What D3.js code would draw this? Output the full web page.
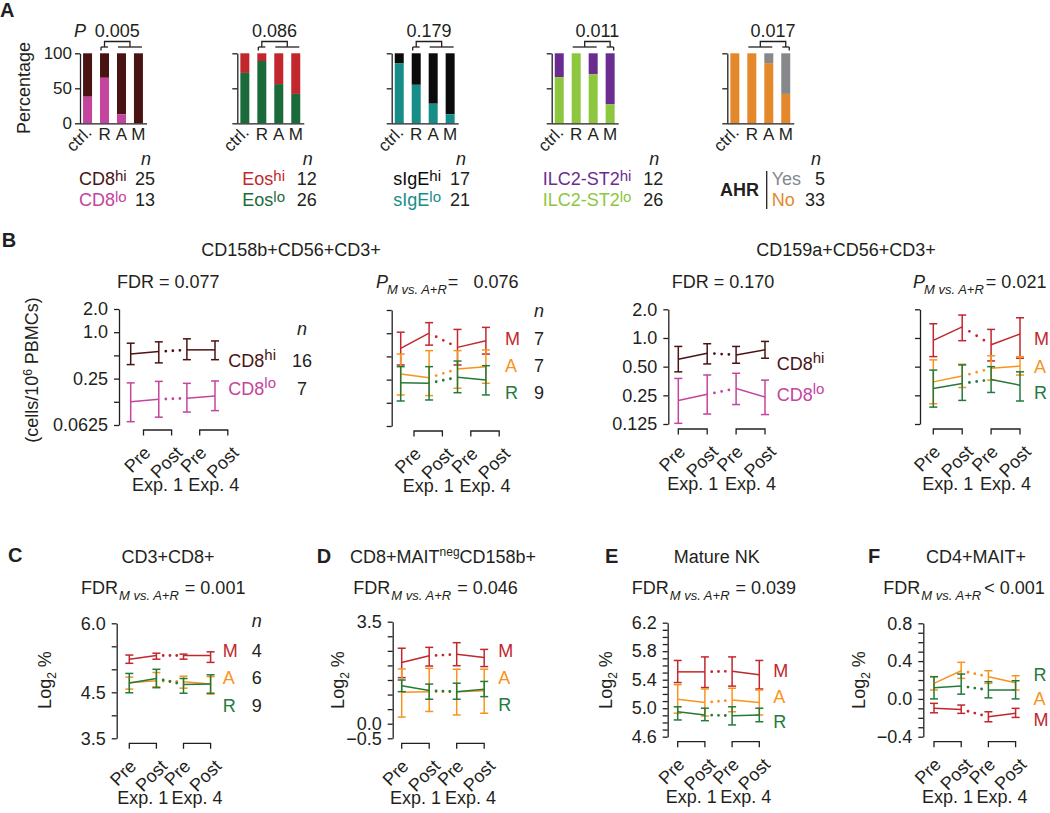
<!DOCTYPE html>
<html><head><meta charset="utf-8">
<script src="https://cdn.jsdelivr.net/npm/d3@7"></script>
<style>
body{margin:0;background:#fff;}
svg{display:block;font-family:"Liberation Sans",Arial,Helvetica,sans-serif;}
</style></head><body>
<svg id="chart" width="1050" height="813"></svg>
<script>
// ================= DATA =================
// Panel A – stacked percentage bars (bottom segment = "lo"/"No" share)
const barCategories = ["ctrl.", "R", "A", "M"];
const cd8LoPercent  = [38, 65, 13, 0];
const eosLoPercent  = [72, 89, 56, 42];
const sigeLoPercent = [86, 55, 28, 13];
const ilc2LoPercent = [66, 100, 70, 27];
const ahrNoPercent  = [100, 100, 86, 42];
const barPValues    = ["0.005", "0.086", "0.179", "0.011", "0.017"];
const barYTicks     = [0, 50, 100];
const cd8Counts  = [25, 13];
const eosCounts  = [12, 26];
const sigeCounts = [17, 21];
const ilc2Counts = [12, 26];
const ahrCounts  = [5, 33];

// Panels B–F – [mean, lower, upper] at Pre/Post of Exp.1 and Exp.4
const timepoints      = ["Pre1", "Post1", "Pre4", "Post4"];
const timepointLabels = ["Pre", "Post", "Pre", "Post"];
const expLabels       = ["Exp. 1", "Exp. 4"];

// B: CD158b+CD56+CD3+ (cells/10^6 PBMCs)
const b1CD8hi = [[0.52,0.38,0.72],[0.56,0.40,0.75],[0.59,0.44,0.82],[0.59,0.44,0.77]];
const b1CD8lo = [[0.125,0.069,0.22],[0.135,0.079,0.23],[0.139,0.092,0.217],[0.149,0.096,0.233]];
const b2M = [[0.637,0.387,1.03],[1.0,0.70,1.37],[0.655,0.387,1.12],[0.80,0.536,1.19]];
const b2A = [[0.295,0.158,0.536],[0.264,0.155,0.594],[0.344,0.193,0.594],[0.368,0.224,0.607]];
const b2R = [[0.228,0.132,0.368],[0.224,0.136,0.368],[0.268,0.169,0.435],[0.247,0.158,0.379]];
// B: CD159a+CD56+CD3+
const b3CD8hi = [[0.599,0.441,0.815],[0.693,0.534,0.87],[0.664,0.543,0.815],[0.752,0.613,0.92]];
const b3CD8lo = [[0.221,0.127,0.376],[0.256,0.159,0.409],[0.295,0.20,0.426],[0.24,0.157,0.361]];
const b4M = [[0.943,0.637,1.41],[1.31,0.937,1.74],[0.85,0.574,1.23],[1.10,0.613,1.63]];
const b4A = [[0.346,0.204,0.589],[0.398,0.302,0.53],[0.48,0.361,0.65],[0.507,0.408,0.637]];
const b4R = [[0.295,0.188,0.46],[0.333,0.221,0.521],[0.366,0.268,0.50],[0.319,0.218,0.441]];
// C: CD3+CD8+ (log2 %)
const cM = [[5.22,5.13,5.31],[5.30,5.22,5.35],[5.30,5.22,5.33],[5.30,5.15,5.38]];
const cA = [[4.71,4.57,4.83],[4.75,4.62,4.93],[4.73,4.59,4.85],[4.68,4.46,4.84]];
const cR = [[4.70,4.49,4.91],[4.80,4.60,5.00],[4.67,4.48,4.80],[4.68,4.48,4.88]];
// D: CD8+MAITnegCD158b+
const dM = [[2.10,1.58,2.59],[2.33,1.98,2.62],[2.38,1.99,2.78],[2.27,1.96,2.55]];
const dA = [[1.08,0.23,1.88],[1.10,0.42,1.90],[1.10,0.30,1.87],[1.13,0.36,1.87]];
const dR = [[1.30,1.10,1.50],[1.14,0.84,1.36],[1.10,0.84,1.39],[1.18,0.93,1.45]];
// E: Mature NK
const eM = [[5.51,5.36,5.67],[5.51,5.29,5.72],[5.52,5.31,5.72],[5.47,5.27,5.67]];
const eA = [[5.125,4.93,5.33],[5.08,4.89,5.27],[5.115,4.95,5.28],[5.08,4.905,5.255]];
const eR = [[4.95,4.835,5.02],[4.905,4.825,5.00],[4.895,4.765,5.02],[4.905,4.81,5.00]];
// F: CD4+MAIT+
const fM = [[-0.100,-0.147,-0.047],[-0.111,-0.153,-0.065],[-0.189,-0.242,-0.136],[-0.153,-0.196,-0.100]];
const fA = [[0.164,0.094,0.235],[0.298,0.217,0.387],[0.235,0.164,0.298],[0.171,0.094,0.245]];
const fR = [[0.118,0.000,0.235],[0.136,0.050,0.263],[0.094,0.011,0.182],[0.094,0.000,0.192]];

// tick labels
const bTickLabelsLow  = ["2.0", "1.0", "0.25", "0.0625"];
const bTickLabelsHigh = ["2.0", "1.0", "0.50", "0.25", "0.125"];
const cTickLabels = ["6.0", "4.5", "3.5"];
const dTickLabels = ["3.5", "0.0", "-0.5"];
const eTickLabels = ["6.2", "5.8", "5.4", "5.0", "4.6"];
const fTickLabels = ["0.8", "0.4", "0.0", "-0.4"];

// ================= DRAWING =================
const svg = d3.select("#chart");
const INK = "#231f20";
const FAM = "Liberation Sans, Arial, Helvetica, sans-serif";
const COL = {
  cd8hi: "#4a1313", cd8lo: "#c4449e", eoshi: "#c1272d", eoslo: "#1b6b3a",
  sigehi: "#0b0b0b", sigelo: "#178d88", ilchi: "#6a2d8f", ilclo: "#8dc63f",
  ahrYes: "#86888b", ahrNo: "#e3892b",
  M: "#c1272d", A: "#f7941d", R: "#237a3b"
};

function rich(parent, x, y, parts, o = {}) {
  const t = parent.append("text")
    .attr("font-size", o.size || 18).attr("fill", o.fill || INK)
    .attr("text-anchor", o.anchor || "start");
  if (o.rotate != null) t.attr("transform", `translate(${x},${y}) rotate(${o.rotate})`);
  else t.attr("x", x).attr("y", y);
  if (o.weight) t.attr("font-weight", o.weight);
  let shift = 0;
  parts.forEach(p => {
    const target = p.sup ? -(p.raise || 6) : (p.sub ? (p.drop || 5) : 0);
    const ts = t.append("tspan").text(p.t).attr("dy", target - shift);
    shift = target;
    if (p.size) ts.attr("font-size", p.size);
    if (p.italic) ts.attr("font-style", "italic");
    if (p.fill) ts.attr("fill", p.fill);
    if (p.dx) ts.attr("dx", p.dx);
  });
  return t;
}
function styleAxis(ax) {
  ax.attr("font-family", FAM).attr("font-size", 18);
  ax.select(".domain").attr("stroke", INK).attr("stroke-width", 1.3);
  ax.selectAll(".tick line").attr("stroke", INK).attr("stroke-width", 1.3);
  ax.selectAll(".tick text").attr("fill", INK);
}

// panel letters
[["A", 0, 16.7], ["B", 1.7, 246.7], ["C", 8, 561.7], ["D", 316.7, 563], ["E", 605, 563], ["F", 868, 563]]
  .forEach(([t, x, y]) => svg.append("text").attr("x", x).attr("y", y).attr("font-size", 20)
    .attr("font-weight", "bold").attr("fill", INK).text(t));

// ---------- Panel A ----------
const barLayout = {
  axisX: [80, 237.3, 391.7, 551.7, 727.3], top: 53.3, bottom: 123.3, span: 66,
  legendX: [79, 242.3, 393.3, 542.7, 720], numRight: [155, 316.7, 470, 663.3, 825]
};
const barPanels = [
  { lo: cd8LoPercent,  hiC: COL.cd8hi,  loC: COL.cd8lo,  name: "CD8",      groups: [[1], [2, 3]], n: cd8Counts },
  { lo: eosLoPercent,  hiC: COL.eoshi,  loC: COL.eoslo,  name: "Eos",      groups: [[1], [2, 3]], n: eosCounts },
  { lo: sigeLoPercent, hiC: COL.sigehi, loC: COL.sigelo, name: "sIgE",     groups: [[1], [2, 3]], n: sigeCounts },
  { lo: ilc2LoPercent, hiC: COL.ilchi,  loC: COL.ilclo,  name: "ILC2-ST2", groups: [[1, 2], [3]], n: ilc2Counts },
  { lo: ahrNoPercent,  hiC: COL.ahrYes, loC: COL.ahrNo,  name: "AHR",      groups: [[1, 2], [3]], n: ahrCounts, ahr: true }
];
const yBar = d3.scaleLinear().domain([0, 100]).range([barLayout.bottom, barLayout.top]);

svg.append("text").attr("transform", `translate(30,88) rotate(-90)`).attr("text-anchor", "middle")
  .attr("font-size", 18).attr("fill", INK).text("Percentage");

barPanels.forEach((bp, i) => {
  const ax = barLayout.axisX[i];
  const g = svg.append("g");
  const x = d3.scaleBand().domain(barCategories).range([ax, ax + barLayout.span])
    .paddingInner(0.47).paddingOuter(0.18);
  g.selectAll("rect.hi").data(bp.lo).join("rect").attr("class", "hi")
    .attr("x", (d, j) => x(barCategories[j])).attr("width", x.bandwidth())
    .attr("y", yBar(100)).attr("height", d => yBar(d) - yBar(100)).attr("fill", bp.hiC);
  g.selectAll("rect.lo").data(bp.lo).join("rect").attr("class", "lo")
    .attr("x", (d, j) => x(barCategories[j])).attr("width", x.bandwidth())
    .attr("y", d => yBar(d)).attr("height", d => yBar(0) - yBar(d)).attr("fill", bp.loC);
  const yA = g.append("g").attr("transform", `translate(${ax},0)`)
    .call(d3.axisLeft(yBar).tickValues(barYTicks).tickSize(5).tickPadding(3).tickSizeOuter(0)
      .tickFormat(i === 0 ? d => String(d) : () => ""));
  styleAxis(yA);
  yA.attr("font-size", 17);
  g.append("line").attr("x1", ax).attr("x2", ax + barLayout.span + 1)
    .attr("y1", yBar(0) + 0.5).attr("y2", yBar(0) + 0.5).attr("stroke", INK).attr("stroke-width", 1.3);
  // category labels
  barCategories.forEach((c, j) => {
    const cx = x(c) + x.bandwidth() / 2;
    if (j === 0) {
      g.append("text").attr("transform", `translate(${cx + 5},${yBar(0) + 10}) rotate(-45)`)
        .attr("text-anchor", "end").attr("font-size", 17).attr("fill", INK).text(c);
    } else {
      g.append("text").attr("x", cx).attr("y", yBar(0) + 17).attr("text-anchor", "middle")
        .attr("font-size", 17).attr("fill", INK).text(c);
    }
  });
  // comparison bracket
  const gy = 47, by = 41.5;
  const segs = bp.groups.map(gr => {
    const x1 = x(barCategories[gr[0]]) + 1;
    const x2 = x(barCategories[gr[gr.length - 1]]) + x.bandwidth() - 1;
    g.append("line").attr("x1", x1).attr("x2", x2).attr("y1", gy).attr("y2", gy)
      .attr("stroke", INK).attr("stroke-width", 1.3);
    return { x1, x2, c: (x1 + x2) / 2, single: gr.length === 1 };
  });
  segs.forEach((s, k) => {
    if (s.single) {
      const ex = k === 0 ? s.x1 : s.x2;
      g.append("line").attr("x1", ex).attr("x2", ex).attr("y1", gy).attr("y2", gy + 3.5)
        .attr("stroke", INK).attr("stroke-width", 1.3);
    }
  });
  g.append("path").attr("d", `M${segs[0].c},${gy}V${by}H${segs[1].c}V${gy}`)
    .attr("fill", "none").attr("stroke", INK).attr("stroke-width", 1.3);
  g.append("text").attr("x", (segs[0].c + segs[1].c) / 2).attr("y", 36.7).attr("text-anchor", "middle")
    .attr("font-size", 18).attr("fill", INK).text(barPValues[i]);
  if (i === 0) {
    g.append("text").attr("x", 74).attr("y", 36.7).attr("font-size", 18).attr("font-style", "italic")
      .attr("fill", INK).text("P");
  }
  // legend
  const lx = barLayout.legendX[i], nr = barLayout.numRight[i];
  g.append("text").attr("x", nr - 9).attr("y", 165).attr("text-anchor", "middle")
    .attr("font-size", 18).attr("font-style", "italic").attr("fill", INK).text("n");
  if (bp.ahr) {
    g.append("text").attr("x", lx).attr("y", 196).attr("font-size", 18).attr("font-weight", "bold")
      .attr("fill", INK).text(bp.name);
    g.append("line").attr("x1", 766.7).attr("x2", 766.7).attr("y1", 171).attr("y2", 209)
      .attr("stroke", INK).attr("stroke-width", 1.3);
    g.append("text").attr("x", 771.7).attr("y", 185).attr("font-size", 18).attr("fill", bp.hiC).text("Yes");
    g.append("text").attr("x", 771.7).attr("y", 206).attr("font-size", 18).attr("fill", bp.loC).text("No");
  } else {
    rich(g, lx, 185, [{ t: bp.name }, { t: "hi", sup: true, raise: 4, size: 15 }], { fill: bp.hiC });
    rich(g, lx, 206, [{ t: bp.name }, { t: "lo", sup: true, raise: 4, size: 15 }], { fill: bp.loC });
  }
  g.append("text").attr("x", nr).attr("y", 185).attr("text-anchor", "end").attr("font-size", 18)
    .attr("fill", INK).text(bp.n[0]);
  g.append("text").attr("x", nr).attr("y", 206).attr("text-anchor", "end").attr("font-size", 18)
    .attr("fill", INK).text(bp.n[1]);
});

// ---------- Panels B–F ----------
const SUB = "M vs. A+R";
function statLine(g, x, y, lead, leadItalic, tail, tailDx, extra) {
  const parts = [{ t: lead, italic: leadItalic }];
  if (tail != null) {
    parts.push({ t: SUB, sub: true, drop: 6, size: 13, italic: true, dx: leadItalic ? -1 : 1 });
    parts.push({ t: tail, dx: tailDx });
    if (extra) parts.push({ t: extra.t, dx: extra.dx });
  }
  rich(g, x, y, parts);
}

function drawLinePanel(P) {
  const L = P.L;
  const g = svg.append("g");
  const ticksNum = P.tickLabels.map(Number);
  const domain = d3.extent(ticksNum);
  const y = (P.log ? d3.scaleLog().base(2) : d3.scaleLinear()).domain(domain).range([L.bottom, L.top]);
  let allTicks;
  if (P.log) {
    allTicks = d3.range(Math.log2(domain[0]), Math.log2(domain[1]) + 0.5).map(e => Math.pow(2, e));
  } else {
    const n = Math.round((domain[1] - domain[0]) / P.minor);
    allTicks = d3.range(n + 1).map(k => domain[0] + k * P.minor);
  }
  const fmt = d => {
    if (!P.showLabels) return "";
    const k = ticksNum.findIndex(v => Math.abs(v - d) < 1e-6);
    return k < 0 ? "" : P.tickLabels[k].replace("-", "\u2212");
  };
  const ax = g.append("g").attr("transform", `translate(${L.axisX},0)`)
    .call(d3.axisLeft(y).tickValues(allTicks).tickFormat(fmt).tickSize(5).tickPadding(6).tickSizeOuter(0));
  styleAxis(ax);

  const x = d3.scalePoint().domain(timepoints).range([L.x0, L.x0 + 3 * L.step]);
  // x brackets and labels
  [[0, 1], [2, 3]].forEach(([a, b], k) => {
    const xa = x(timepoints[a]) + L.shift, xb = x(timepoints[b]) + L.shift;
    const yt = L.bottom + 5, yb = L.bottom + 10.5;
    g.append("path").attr("d", `M${xa},${yb}V${yt}H${xb}V${yb}`).attr("fill", "none")
      .attr("stroke", INK).attr("stroke-width", 1.3);
    [a, b].forEach(idx => {
      const lab = timepointLabels[idx];
      const lx = x(timepoints[idx]) + L.shift + (lab === "Pre" ? 8 : 12);
      g.append("text").attr("transform", `translate(${lx},${L.bottom + 29}) rotate(-45)`)
        .attr("text-anchor", "end").attr("font-size", 18).attr("fill", INK).text(lab);
    });
    g.append("text").attr("x", (xa + xb) / 2).attr("y", L.bottom + 66).attr("text-anchor", "middle")
      .attr("font-size", 18).attr("fill", INK).text(expLabels[k]);
  });

  // series
  P.series.forEach((s, si) => {
    const pts = s.d.map((v, i) => ({ x: x(timepoints[i]), m: y(v[0]), lo: y(v[1]), hi: y(v[2]) }));
    const sg = g.append("g").attr("stroke", s.c).attr("fill", "none");
    [[0, 1], [2, 3]].forEach(([a, b]) => sg.append("line")
      .attr("x1", pts[a].x).attr("y1", pts[a].m).attr("x2", pts[b].x).attr("y2", pts[b].m)
      .attr("stroke-width", 1.5));
    const p1 = pts[1], p2 = pts[2];
    const ddx = p2.x - p1.x, ddy = p2.m - p1.m, len = Math.hypot(ddx, ddy), per = len / 4;
    sg.append("line")
      .attr("x1", p1.x + ddx * 0.125).attr("y1", p1.m + ddy * 0.125)
      .attr("x2", p1.x + ddx * 0.875).attr("y2", p1.m + ddy * 0.875)
      .attr("stroke-width", 2.8).attr("stroke-linecap", "round")
      .attr("stroke-dasharray", `0 ${per}`).attr("stroke-dashoffset", -per / 2);
    pts.forEach(p => {
      sg.append("line").attr("x1", p.x).attr("x2", p.x).attr("y1", p.lo).attr("y2", p.hi).attr("stroke-width", 1.5);
      [p.lo, p.hi].forEach(yy => sg.append("line").attr("x1", p.x - 4).attr("x2", p.x + 4)
        .attr("y1", yy).attr("y2", yy).attr("stroke-width", 1.5));
    });
    const parts = [{ t: s.lab }];
    if (s.sup) parts.push({ t: s.sup, sup: true, raise: 7, size: 15 });
    rich(g, L.labelX, L.labelY[si], parts, { fill: s.c });
    if (L.nX != null) {
      g.append("text").attr("x", L.nX).attr("y", L.labelY[si]).attr("text-anchor", "middle")
        .attr("font-size", 18).attr("fill", INK).text(s.n);
    }
  });
  if (L.nX != null) {
    g.append("text").attr("x", L.nX).attr("y", L.nY).attr("text-anchor", "middle")
      .attr("font-size", 18).attr("font-style", "italic").attr("fill", INK).text("n");
  }
  return g;
}

const linePanels = [
  { log: true, tickLabels: bTickLabelsLow, showLabels: true,
    series: [{ d: b1CD8hi, c: COL.cd8hi, lab: "CD8", sup: "hi", n: 16 },
             { d: b1CD8lo, c: COL.cd8lo, lab: "CD8", sup: "lo", n: 7 }],
    L: { axisX: 119, top: 309, bottom: 425, x0: 130.7, step: 28.1, shift: 12.8,
         labelX: 228.3, labelY: [366.7, 395], nX: 302, nY: 335 } },
  { log: true, tickLabels: bTickLabelsLow, showLabels: false,
    series: [{ d: b2M, c: COL.M, lab: "M", n: 7 }, { d: b2A, c: COL.A, lab: "A", n: 7 }, { d: b2R, c: COL.R, lab: "R", n: 9 }],
    L: { axisX: 391.7, top: 310, bottom: 426, x0: 400.7, step: 28.4, shift: 13.3,
         labelX: 505, labelY: [345, 372, 399], nX: 539, nY: 316.7 } },
  { log: true, tickLabels: bTickLabelsHigh, showLabels: true,
    series: [{ d: b3CD8hi, c: COL.cd8hi, lab: "CD8", sup: "hi" },
             { d: b3CD8lo, c: COL.cd8lo, lab: "CD8", sup: "lo" }],
    L: { axisX: 668.3, top: 309.3, bottom: 424, x0: 678.3, step: 28.9, shift: 0,
         labelX: 776.7, labelY: [370, 401] } },
  { log: true, tickLabels: bTickLabelsHigh, showLabels: false,
    series: [{ d: b4M, c: COL.M, lab: "M" }, { d: b4A, c: COL.A, lab: "A" }, { d: b4R, c: COL.R, lab: "R" }],
    L: { axisX: 920, top: 309.3, bottom: 424, x0: 933.3, step: 28.9, shift: 0,
         labelX: 1034, labelY: [345, 372.7, 399.3] } },
  { log: false, minor: 0.5, tickLabels: cTickLabels, showLabels: true,
    series: [{ d: cM, c: COL.M, lab: "M", n: 4 }, { d: cA, c: COL.A, lab: "A", n: 6 }, { d: cR, c: COL.R, lab: "R", n: 9 }],
    L: { axisX: 116.7, top: 623.3, bottom: 738.3, x0: 129.3, step: 27.1, shift: 0,
         labelX: 222.7, labelY: [656.7, 684, 711.7], nX: 256.7, nY: 627.3 } },
  { log: false, minor: 0.5, tickLabels: dTickLabels, showLabels: true,
    series: [{ d: dM, c: COL.M, lab: "M" }, { d: dA, c: COL.A, lab: "A" }, { d: dR, c: COL.R, lab: "R" }],
    L: { axisX: 392.7, top: 621.7, bottom: 738.3, x0: 401.7, step: 27.5, shift: 0,
         labelX: 498.3, labelY: [656.7, 684.3, 711] } },
  { log: false, minor: 0.1, tickLabels: eTickLabels, showLabels: true,
    series: [{ d: eM, c: COL.M, lab: "M" }, { d: eA, c: COL.A, lab: "A" }, { d: eR, c: COL.R, lab: "R" }],
    L: { axisX: 667.7, top: 622.7, bottom: 736.7, x0: 677.7, step: 27.2, shift: 0,
         labelX: 773.3, labelY: [676.7, 703.3, 728.3] } },
  { log: false, minor: 0.1, tickLabels: fTickLabels, showLabels: true,
    series: [{ d: fM, c: COL.M, lab: "M" }, { d: fA, c: COL.A, lab: "A" }, { d: fR, c: COL.R, lab: "R" }],
    L: { axisX: 923.3, top: 623.3, bottom: 736.7, x0: 934, step: 27.2, shift: 0,
         labelX: 1033.5, labelY: [726, 705, 681] } }
];
linePanels.forEach(drawLinePanel);

// titles and statistics
const T = svg.append("g").attr("fill", INK);
T.append("text").attr("x", 291).attr("y", 256).attr("text-anchor", "middle").attr("font-size", 18).text("CD158b+CD56+CD3+");
T.append("text").attr("x", 846).attr("y", 256).attr("text-anchor", "middle").attr("font-size", 18).text("CD159a+CD56+CD3+");
statLine(T, 117, 288, "FDR = 0.077", false);
statLine(T, 376, 288, "P", true, "=", 1, { t: "0.076", dx: 15 });
statLine(T, 671.7, 288, "FDR = 0.170", false);
statLine(T, 913, 288, "P", true, "= 0.021", 2);

T.append("text").attr("x", 168).attr("y", 563).attr("text-anchor", "middle").attr("font-size", 18).text("CD3+CD8+");
rich(T, 350, 563, [{ t: "CD8+MAIT" }, { t: "neg", sup: true, raise: 7, size: 12 }, { t: "CD158b+" }]);
T.append("text").attr("x", 716.7).attr("y", 563).attr("text-anchor", "middle").attr("font-size", 18).text("Mature NK");
T.append("text").attr("x", 976).attr("y", 563).attr("text-anchor", "middle").attr("font-size", 18).text("CD4+MAIT+");
statLine(T, 81, 594, "FDR", false, "= 0.001", 6);
statLine(T, 353.3, 594, "FDR", false, "= 0.046", 6);
statLine(T, 631.7, 594, "FDR", false, "= 0.039", 6);
statLine(T, 883.3, 594, "FDR", false, "< 0.001", 3);

// y-axis titles
rich(T, 37.5, 370, [{ t: "(cells/10" }, { t: "6", sup: true, raise: 6, size: 12 }, { t: " PBMCs)" }], { anchor: "middle", rotate: -90 });
[50.5, 343.5, 611.5, 865].forEach(xx =>
  rich(T, xx, 680, [{ t: "Log" }, { t: "2", sub: true, drop: 5, size: 12 }, { t: " %" }], { anchor: "middle", rotate: -90 }));
</script>
</body></html>
